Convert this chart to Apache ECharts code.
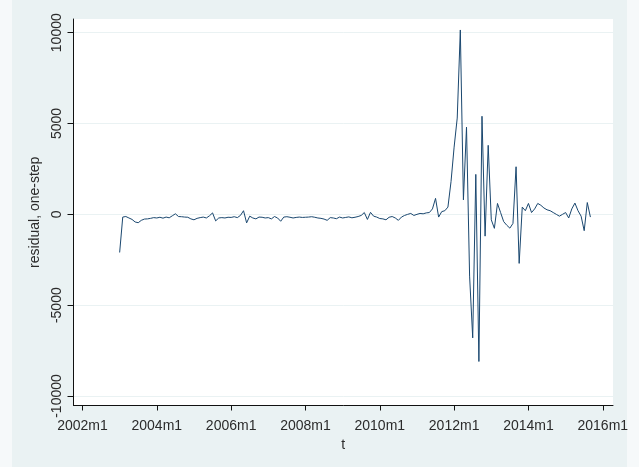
<!DOCTYPE html>
<html>
<head>
<meta charset="utf-8">
<script src="https://cdn.jsdelivr.net/npm/echarts@6/dist/echarts.min.js"></script>
<style>
  html, body { margin: 0; padding: 0; background: #ffffff; }
  #chart { width: 639px; height: 467px; }
</style>
</head>
<body>
<div id="chart"></div>
<script>
// Monthly one-step residuals, first observation 2003m1
const firstPeriod = '2003m1';
const residuals = [
  -2100, -150, -120, -200, -280, -420, -460, -330, -260, -250, -220, -180,
  -200, -160, -210, -150, -190, -80, 30, -120, -130, -150, -160, -250,
  -300, -220, -180, -150, -200, -80, 80, -360, -200, -180, -200, -160,
  -170, -130, -180, -60, 200, -470, -100, -200, -250, -150, -160, -200,
  -180, -250, -120, -200, -380, -150, -130, -160, -200, -170, -150, -170,
  -160, -150, -130, -160, -200, -220, -260, -330, -180, -200, -240, -150,
  -200, -170, -140, -190, -160, -120, -60, 100, -280, 110, -100, -150,
  -230, -250, -300, -160, -120, -200, -330, -150, -60, 0, 50, -60,
  0, 50, 30, 80, 100, 300, 880, -150, 150, 200, 400, 1800,
  3700, 5300, 10150, 800, 4800, -3400, -6800, 2200, -8100, 5400, -1200, 3800,
  -300, -770, 600, 100, -400, -600, -760, -500, 2620, -2700, 400, 200,
  600, 100, 300, 600, 500, 350, 250, 200, 100, 0, -100, 0,
  100, -200, 300, 620, 200, -100, -900, 650, -150
];

// Axis ticks
const xTickLabels = ['2002m1', '2004m1', '2006m1', '2008m1', '2010m1', '2012m1', '2014m1', '2016m1'];
const yTickValues = [-10000, -5000, 0, 5000, 10000];

// Months are counted from 2002m1
const originYear = 2002;
function periodToIndex(p) {
  const [y, m] = p.split('m').map(Number);
  return (y - originYear) * 12 + (m - 1);
}
const xTickValues = xTickLabels.map(periodToIndex);
const labelByIndex = {};
xTickLabels.forEach((l, i) => { labelByIndex[xTickValues[i]] = l; });

const start = periodToIndex(firstPeriod);
const seriesData = residuals.map((v, i) => [start + i, v]);

const textColor = '#2b2b2b';
const fontFamily = 'Liberation Sans, Arial, sans-serif';

const chart = echarts.init(document.getElementById('chart'), null, { renderer: 'canvas' });
chart.setOption({
  backgroundColor: '#eaf2f3',
  animation: false,
  // pale margins at the left and right edges of the graph region
  graphic: [
    { type: 'rect', left: 0, top: 0, shape: { width: 12, height: 467 }, style: { fill: '#f6f9fa' }, silent: true, z: -10 },
    { type: 'rect', left: 627, top: 0, shape: { width: 12, height: 467 }, style: { fill: '#f6f9fa' }, silent: true, z: -10 }
  ],
  grid: {
    left: 73.5,
    top: 19,
    right: 26,
    bottom: 61.5,
    show: true,
    backgroundColor: '#ffffff',
    borderWidth: 0
  },
  xAxis: {
    type: 'value',
    min: -2.9,
    max: 171.3,
    name: 't',
    nameLocation: 'middle',
    nameGap: 30,
    nameTextStyle: { color: textColor, fontSize: 14, fontFamily },
    axisLine: { show: true, onZero: false, lineStyle: { color: '#111', width: 1 } },
    axisTick: { show: true, length: 5, customValues: xTickValues, lineStyle: { color: '#111' } },
    axisLabel: {
      customValues: xTickValues,
      formatter: v => labelByIndex[v] || '',
      color: textColor,
      fontSize: 14,
      fontFamily,
      margin: 14
    },
    splitLine: { show: false }
  },
  yAxis: {
    type: 'value',
    min: -10523,
    max: 10754,
    name: 'residual, one-step',
    nameLocation: 'middle',
    nameGap: 29,
    nameRotate: 90,
    nameTextStyle: { color: textColor, fontSize: 14, fontFamily },
    axisLine: { show: true, onZero: false, lineStyle: { color: '#111', width: 1 } },
    axisTick: { show: true, length: 6, customValues: yTickValues, lineStyle: { color: '#111' } },
    axisLabel: {
      customValues: yTickValues,
      formatter: v => String(v),
      rotate: 90,
      color: textColor,
      fontSize: 14,
      fontFamily,
      margin: 9
    },
    splitLine: { show: true, lineStyle: { color: '#eaf2f3', width: 1 } }
  },
  series: [{
    type: 'line',
    data: seriesData,
    showSymbol: false,
    lineStyle: { color: '#1a476f', width: 1 },
    itemStyle: { color: '#1a476f' }
  }]
});
</script>
</body>
</html>
